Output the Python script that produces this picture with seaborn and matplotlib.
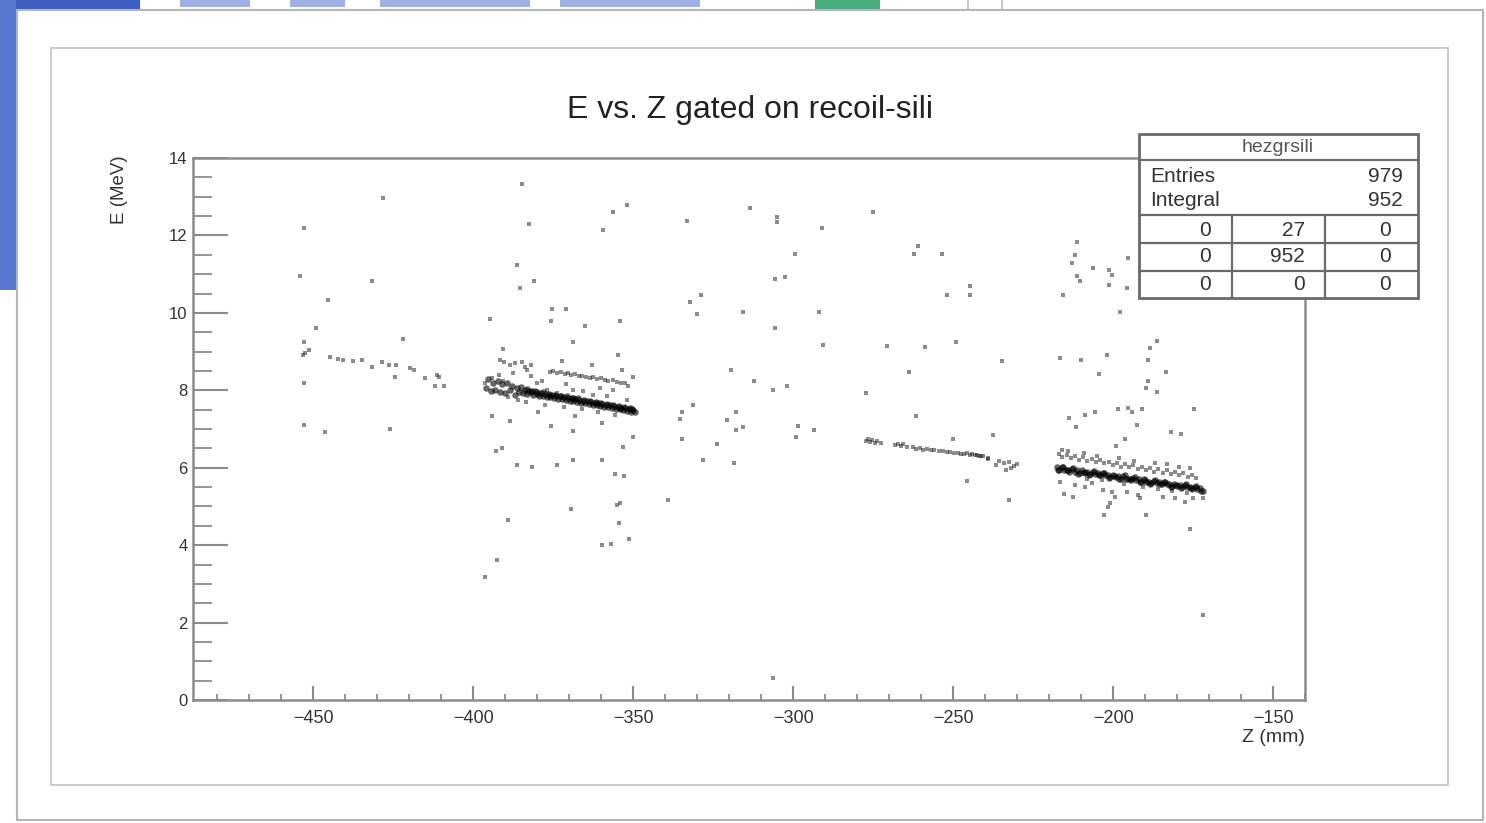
import matplotlib
matplotlib.use("Agg")
import numpy as np
import pandas as pd
import matplotlib.pyplot as plt
import seaborn as sns
from matplotlib.patches import Rectangle
from matplotlib.lines import Line2D
from matplotlib.ticker import MultipleLocator

# ---------------- data (Z in mm, E in MeV) ----------------
# sparse band on the far left
left_z = [-453.0, -452.5, -451.2, -444.7, -442.1, -440.7, -437.4, -434.8, -431.7, -428.5,
          -426.3, -424.2, -424.4, -419.7, -418.4, -415.0, -411.4, -410.5, -411.9, -409.1]
left_e = [8.92, 8.97, 9.03, 8.85, 8.81, 8.79, 8.76, 8.79, 8.59, 8.73,
          8.66, 8.66, 8.35, 8.57, 8.53, 8.31, 8.40, 8.35, 8.12, 8.12]

# dense band around Z = -395 ... -349
bandA_z = [-396.0, -395.2, -394.5, -393.8, -393.0, -392.3, -391.5, -390.8, -390.0, -389.3,
           -388.5, -387.8, -387.0, -386.4, -385.6, -385.0, -384.3, -383.6, -383.0, -382.4,
           -381.8, -381.2, -380.6, -380.0, -379.4, -378.8, -378.2, -377.6, -377.0, -376.4,
           -375.8, -375.2, -374.6, -374.0, -373.4, -372.8, -372.2, -371.6, -371.0, -370.4,
           -369.8, -369.2, -368.6, -368.0, -367.4, -366.8, -366.2, -365.6, -365.0, -364.4,
           -363.8, -363.2, -362.6, -362.0, -361.4, -360.8, -360.2, -359.6, -359.0, -358.4,
           -357.8, -357.2, -356.6, -356.0, -355.4, -354.8, -354.2, -353.6, -353.0, -352.4,
           -351.8, -351.2, -350.6, -350.0, -349.4,
           -383.2, -381.5, -379.9, -378.0, -376.1, -374.3, -372.5, -370.7, -368.9, -367.1,
           -365.3, -363.5, -361.7, -359.9, -358.1, -356.3, -354.5, -352.7, -351.0, -350.2]
bandA_e = [8.05, 8.28, 7.98, 8.20, 8.02, 8.24, 7.95, 8.15, 7.92, 8.18,
           8.00, 8.10, 7.88, 8.06, 7.95, 8.08, 7.93, 8.02, 7.90, 7.99,
           7.95, 7.88, 7.97, 7.90, 7.86, 7.93, 7.85, 7.90, 7.83, 7.89,
           7.82, 7.87, 7.80, 7.85, 7.78, 7.84, 7.77, 7.82, 7.75, 7.80,
           7.73, 7.79, 7.72, 7.77, 7.70, 7.75, 7.68, 7.73, 7.66, 7.72,
           7.65, 7.70, 7.63, 7.68, 7.61, 7.66, 7.59, 7.64, 7.58, 7.62,
           7.56, 7.61, 7.54, 7.59, 7.52, 7.57, 7.51, 7.55, 7.49, 7.54,
           7.47, 7.51, 7.45, 7.49, 7.43,
           8.04, 7.99, 7.96, 7.95, 7.91, 7.89, 7.85, 7.84, 7.80, 7.79,
           7.75, 7.73, 7.69, 7.68, 7.64, 7.63, 7.60, 7.58, 7.55, 7.52]

# upper companion band of the left cluster
upperA_z = [-391.6, -390.2, -388.4, -386.9, -384.8, -383.8, -382.0, -376.0, -375.0, -373.8,
            -372.6, -371.4, -370.4, -369.3, -368.0, -367.0, -365.8, -364.6, -363.5, -362.4,
            -361.2, -360.0, -358.8, -357.7, -356.4, -355.1, -353.9, -352.6, -351.5]
upperA_e = [8.79, 8.72, 8.66, 8.70, 8.74, 8.61, 8.66, 8.48, 8.50, 8.45,
            8.47, 8.43, 8.44, 8.40, 8.41, 8.37, 8.38, 8.35, 8.33, 8.34,
            8.30, 8.31, 8.27, 8.25, 8.26, 8.22, 8.20, 8.18, 8.12]

# middle band around Z = -277 ... -230
bandB_z = [-277.2, -276.6, -276.0, -275.3, -274.5, -273.6, -272.5, -268.0, -267.2, -266.3,
           -265.5, -264.4, -262.6, -261.5, -260.4, -259.3, -258.2, -257.0, -255.8, -254.3,
           -253.2, -252.0, -250.8, -249.6, -248.3, -247.5, -246.5, -245.6, -244.8, -244.0,
           -243.2, -242.5, -241.8, -241.3, -240.5, -239.0, -239.0,
           -235.5, -234.0, -232.5, -231.0, -230.0, -233.5, -231.8, -236.5]
bandB_e = [6.70, 6.74, 6.66, 6.71, 6.65, 6.68, 6.64, 6.58, 6.62, 6.55,
           6.60, 6.54, 6.53, 6.49, 6.52, 6.47, 6.49, 6.45, 6.46, 6.43,
           6.44, 6.40, 6.41, 6.38, 6.39, 6.36, 6.35, 6.37, 6.33, 6.35,
           6.32, 6.33, 6.31, 6.30, 6.31, 6.26, 6.22,
           6.18, 6.12, 6.16, 6.05, 6.10, 5.95, 6.00, 6.08]

# dense main band on the right, Z = -218 ... -172
bandC_z = [-217.6, -216.8, -216.0, -215.2, -214.4, -213.6, -212.8, -212.0, -211.2, -210.4,
           -209.6, -208.8, -208.0, -207.2, -206.4, -205.6, -204.8, -204.0, -203.2, -202.4,
           -201.6, -200.8, -200.0, -199.2, -198.4, -197.6, -196.8, -196.0, -195.2, -194.4,
           -193.6, -192.8, -192.0, -191.2, -190.4, -189.6, -188.8, -188.0, -187.2, -186.4,
           -185.6, -184.8, -184.0, -183.2, -182.4, -181.6, -180.8, -180.0, -179.2, -178.4,
           -177.6, -176.8, -176.0, -175.2, -174.4, -173.6, -172.8, -172.0,
           -217.2, -215.6, -214.0, -212.4, -210.8, -209.2, -207.6, -206.0, -204.4, -202.8,
           -201.2, -199.6, -198.0, -196.4, -194.8, -193.2, -191.6, -190.0, -188.4, -186.8,
           -185.2, -183.6, -182.0, -180.4, -178.8, -177.2, -175.6, -174.0, -172.4]
bandC_e = [6.01, 5.95, 6.01, 5.95, 5.95, 5.90, 5.96, 5.90, 5.93, 5.87,
           5.93, 5.87, 5.88, 5.83, 5.89, 5.83, 5.86, 5.80, 5.86, 5.80,
           5.80, 5.75, 5.81, 5.75, 5.78, 5.72, 5.78, 5.72, 5.72, 5.67,
           5.73, 5.67, 5.70, 5.64, 5.70, 5.64, 5.64, 5.60, 5.66, 5.60,
           5.63, 5.57, 5.63, 5.57, 5.57, 5.52, 5.58, 5.52, 5.55, 5.49,
           5.55, 5.49, 5.49, 5.44, 5.50, 5.44, 5.47, 5.41,
           5.94, 6.03, 5.93, 5.98, 5.85, 5.90, 5.82, 5.91, 5.81, 5.86,
           5.73, 5.78, 5.71, 5.80, 5.70, 5.75, 5.62, 5.67, 5.59, 5.68,
           5.58, 5.63, 5.50, 5.55, 5.47, 5.57, 5.47, 5.52, 5.39]

# upper companion band on the right
upperC_z = [-217.0, -215.8, -214.5, -213.2, -212.0, -210.6, -209.3, -208.0, -206.6, -205.2,
            -204.0, -202.7, -201.4, -200.0, -198.8, -197.5, -196.2, -194.9, -193.6, -192.3,
            -191.0, -189.7, -188.4, -187.1, -185.8, -184.5, -183.2, -181.9, -180.6, -179.3,
            -178.0, -176.7, -175.4, -174.1]
upperC_e = [6.35, 6.28, 6.33, 6.24, 6.30, 6.21, 6.27, 6.18, 6.23, 6.14,
            6.20, 6.11, 6.16, 6.08, 6.13, 6.03, 6.10, 6.01, 6.06, 5.97,
            6.03, 5.94, 6.00, 5.90, 5.96, 5.87, 5.93, 5.84, 5.89, 5.80,
            5.86, 5.77, 5.82, 5.74]

# isolated entries
scatter_z = [-428.0, -452.7, -454.1, -431.7, -445.2, -449.1, -452.7, -421.8, -452.7, -452.7,
             -446.3, -425.9,
             -384.8, -382.4, -356.4, -352.0, -359.3, -333.2, -313.4, -304.9, -304.9, -299.4,
             -386.2, -380.9, -385.3, -305.6, -302.5, -332.2, -328.8, -330.1, -315.5, -305.6,
             -394.7, -375.4, -370.8, -375.7, -365.0, -354.1, -368.7, -390.5, -354.8, -372.3,
             -362.9, -353.3, -349.9, -319.5, -312.2, -306.3, -302.0, -331.2, -334.8, -335.3,
             -317.8, -320.7, -317.8, -315.7, -298.3, -299.1, -334.8, -323.9, -328.0, -318.4,
             -339.0, -394.2, -388.4, -379.6, -375.7, -368.1, -368.7, -359.8, -353.0, -349.9,
             -392.8, -391.0, -386.2, -381.7, -373.7, -368.7, -359.8, -355.6, -352.7, -355.1,
             -354.1, -369.4, -354.3, -351.2, -359.8, -357.0, -389.0, -392.6, -396.3, -306.3,
             -396.3, -394.2, -390.5, -387.4, -383.2, -380.1, -377.0, -373.8, -368.7, -365.5,
             -360.3, -356.2, -352.0, -382.0, -378.5, -371.0, -362.5, -358.0, -386.0, -383.5,
             -377.5, -371.5, -366.0, -361.0, -355.5, -392.0, -389.0,
             -275.1, -291.0, -260.8, -262.2, -253.5, -244.7, -244.7, -252.0, -215.7, -291.8,
             -290.5, -270.7, -258.6, -249.2, -234.6, -216.6, -263.7, -277.3, -261.6, -293.4,
             -249.9, -237.4, -245.7, -232.5, -216.6, -215.2,
             -211.4, -211.9, -212.9, -211.4, -210.3, -206.2, -201.4, -200.4, -201.4, -195.2,
             -195.5, -197.8, -186.4, -188.4, -210.1, -202.0, -189.0, -204.3, -183.3, -189.0,
             -189.7, -186.4, -174.7, -213.7, -208.8, -205.6, -211.6, -198.3, -195.2, -194.2,
             -191.0, -192.6, -181.9, -178.9, -196.3, -199.1, -202.8, -189.7, -175.9, -171.8,
             -211.9, -212.4, -208.8, -206.7, -203.0, -200.4, -199.4, -200.9, -201.5, -195.7,
             -192.1, -191.6, -184.3, -180.6, -177.5, -174.9, -171.8,
             -216.0, -214.0, -209.0, -205.0, -198.0, -193.5, -187.0, -183.0, -179.5, -176.0,
             -208.0, -203.5, -196.5, -190.5, -186.0, -181.5, -177.0]
scatter_e = [12.96, 12.19, 10.94, 10.81, 10.34, 9.62, 9.26, 9.32, 8.18, 7.11,
             6.93, 6.99,
             13.33, 12.30, 12.60, 12.79, 12.13, 12.37, 12.71, 12.48, 12.35, 11.53,
             11.23, 10.82, 10.63, 10.88, 10.92, 10.28, 10.45, 9.97, 10.01, 9.61,
             9.85, 10.09, 10.09, 9.79, 9.67, 9.79, 9.26, 9.07, 8.90, 8.76,
             8.65, 8.53, 8.34, 8.53, 8.23, 8.00, 8.10, 7.62, 7.45, 7.27,
             7.45, 7.22, 6.97, 7.04, 7.09, 6.80, 6.73, 6.62, 6.20, 6.11,
             5.17, 7.33, 7.20, 7.45, 7.09, 7.33, 6.94, 7.16, 6.53, 6.80,
             6.44, 6.51, 6.08, 6.02, 6.08, 6.20, 6.20, 5.84, 5.78, 5.04,
             5.10, 4.93, 4.57, 4.15, 4.00, 4.04, 4.64, 3.61, 3.19, 0.56,
             8.18, 8.31, 8.23, 8.44, 8.53, 8.18, 8.01, 7.92, 8.01, 7.98,
             8.05, 8.01, 7.75, 8.36, 8.25, 8.15, 7.88, 7.85, 7.75, 7.70,
             7.62, 7.58, 7.52, 7.45, 7.35, 8.40, 7.82,
             12.60, 12.19, 11.72, 11.53, 11.53, 10.70, 10.45, 10.45, 10.45, 10.03,
             9.18, 9.14, 9.12, 9.26, 8.76, 8.83, 8.47, 7.94, 7.33, 6.98,
             6.73, 6.85, 5.65, 5.17, 5.64, 5.31,
             11.84, 11.50, 11.28, 10.94, 10.81, 11.17, 11.11, 10.98, 10.72, 11.41,
             10.64, 10.03, 9.28, 9.09, 8.79, 8.91, 8.79, 8.42, 8.48, 8.23,
             8.05, 7.95, 7.52, 7.28, 7.35, 7.43, 7.04, 7.52, 7.54, 7.45,
             7.52, 7.11, 6.93, 6.86, 6.74, 6.56, 4.78, 4.78, 4.41, 2.20,
             5.56, 5.25, 5.51, 5.60, 5.43, 5.38, 5.25, 5.08, 4.99, 5.38,
             5.30, 5.21, 5.25, 5.21, 5.12, 5.21, 5.21,
             6.45, 6.42, 6.38, 6.30, 6.25, 6.18, 6.12, 6.10, 6.02, 5.98,
             5.72, 5.68, 5.58, 5.50, 5.45, 5.40, 5.35]

x_ticks = [-450, -400, -350, -300, -250, -200, -150]
y_ticks = [0, 2, 4, 6, 8, 10, 12, 14]

stats_name = "hezgrsili"
stats_rows = [("Entries", "979"), ("Integral", "952")]
stats_grid = [["0", "27", "0"], ["0", "952", "0"], ["0", "0", "0"]]

# ---------------- figure ----------------
sns.set_theme(style="white")
plt.rcParams["font.family"] = ["Liberation Sans", "DejaVu Sans"]

W, H = 1486, 823
fig = plt.figure(figsize=(W / 100, H / 100), dpi=100)
fig.patch.set_facecolor("white")


def fx(x):
    return x / W


def fy(y):
    return 1 - y / H


def frect(x0, y0, x1, y1, **kw):
    r = Rectangle((fx(x0), fy(y1)), fx(x1) - fx(x0), fy(y0) - fy(y1),
                  transform=fig.transFigure, **kw)
    fig.add_artist(r)
    return r


def fline(x0, y0, x1, y1, **kw):
    fig.add_artist(Line2D([fx(x0), fx(x1)], [fy(y0), fy(y1)], transform=fig.transFigure, **kw))


# background of the screenshot (desktop behind the window)
frect(0, 0, 140, 10, facecolor="#3d5fc4", edgecolor="none", zorder=-3)
frect(0, 0, 16, 290, facecolor="#5a78cf", edgecolor="none", zorder=-3)
frect(180, 0, 250, 7, facecolor="#9fb1e4", edgecolor="none", zorder=-3)
frect(290, 0, 345, 7, facecolor="#9fb1e4", edgecolor="none", zorder=-3)
frect(380, 0, 530, 7, facecolor="#9fb1e4", edgecolor="none", zorder=-3)
frect(560, 0, 700, 7, facecolor="#9fb1e4", edgecolor="none", zorder=-3)
frect(815, 0, 880, 10, facecolor="#46ad7d", edgecolor="none", zorder=-3)
fline(968, 0, 968, 10, color="#bdbdbd", lw=1.2, zorder=-3)
fline(1002, 0, 1002, 10, color="#bdbdbd", lw=1.2, zorder=-3)
# window and canvas frames
frect(17, 10, 1483, 820, facecolor="white", edgecolor="#b5b5b5", lw=1.5, zorder=-2)
frect(51, 48, 1448, 785, facecolor="none", edgecolor="#c2c2c2", lw=1.2, zorder=-1)

ax = fig.add_axes([fx(193), fy(700), fx(1305) - fx(193), fy(158) - fy(700)])
ax.set_zorder(2)
ax.set_facecolor("white")

# dense loci (drawn with slightly larger dots so they read as thick bands)
df_band = pd.DataFrame({
    "Z": bandA_z + bandC_z,
    "E": bandA_e + bandC_e,
})
# sparser entries
df_sparse = pd.DataFrame({
    "Z": left_z + upperA_z + bandB_z + upperC_z + scatter_z,
    "E": left_e + upperA_e + bandB_e + upperC_e + scatter_e,
})
sns.scatterplot(data=df_sparse, x="Z", y="E", ax=ax, color="black", marker="s", s=9,
                alpha=0.45, linewidth=0, legend=False)
sns.scatterplot(data=df_band, x="Z", y="E", ax=ax, color="black", marker="o", s=22,
                alpha=0.6, linewidth=0, legend=False)

ax.set_xlim(-487.5, -140)
ax.set_ylim(0, 14)
ax.set_xticks(x_ticks)
ax.set_yticks(y_ticks)
ax.xaxis.set_minor_locator(MultipleLocator(10))
ax.yaxis.set_minor_locator(MultipleLocator(0.5))
ax.set_xlabel("")
ax.set_ylabel("")

tc = "#8c8c8c"
ax.tick_params(axis="x", which="major", direction="in", length=10, width=1.5, color=tc,
               pad=7, labelsize=13, labelcolor="#333333", top=False, bottom=True)
ax.tick_params(axis="x", which="minor", direction="in", length=4.3, width=1.3, color=tc,
               top=False, bottom=True)
ax.tick_params(axis="y", which="major", direction="in", length=25, width=1.5, color=tc,
               pad=4, labelsize=12, labelcolor="#333333", right=False, left=True)
ax.tick_params(axis="y", which="minor", direction="in", length=13.5, width=1.3, color=tc,
               right=False, left=True)
for s in ax.spines.values():
    s.set_visible(True)
    s.set_color(tc)
    s.set_linewidth(1.8)

# titles
fig.text(fx(750), fy(110), "E vs. Z gated on recoil-sili", ha="center", va="center",
         fontsize=23, color="#222222")
fig.text(fx(120), fy(155), "E (MeV)", rotation=90, ha="center", va="top",
         fontsize=13.5, color="#333333")
fig.text(fx(1305), fy(738), "Z (mm)", ha="right", va="center", fontsize=14, color="#333333")

# stats box
bx0, by0, bx1, by1 = 1139, 134, 1418, 298
frect(bx0, by0, bx1, by1, facecolor="white", edgecolor="#6a6a6a", lw=2, zorder=10)
lc = "#6a6a6a"
for yy in (160, 215, 243, 271):
    fline(bx0, yy, bx1, yy, color=lc, lw=1.6, zorder=11)
for xx in (1232, 1325):
    fline(xx, 215, xx, by1, color=lc, lw=1.6, zorder=11)
fig.text(fx(1278), fy(147), stats_name, ha="center", va="center", fontsize=14,
         color="#555555", zorder=12)
for (lab, val), yy in zip(stats_rows, (176, 201)):
    fig.text(fx(1150), fy(yy), lab, ha="left", va="center", fontsize=15, color="#333333", zorder=12)
    fig.text(fx(1403), fy(yy), val, ha="right", va="center", fontsize=15, color="#333333", zorder=12)
col_right = (1211, 1305, 1391)
for row, yy in zip(stats_grid, (230, 257, 285)):
    for val, xr in zip(row, col_right):
        fig.text(fx(xr), fy(yy), val, ha="right", va="center", fontsize=15,
                 color="#333333", zorder=12)

fig.savefig("out.png", dpi=100, facecolor=fig.get_facecolor())
